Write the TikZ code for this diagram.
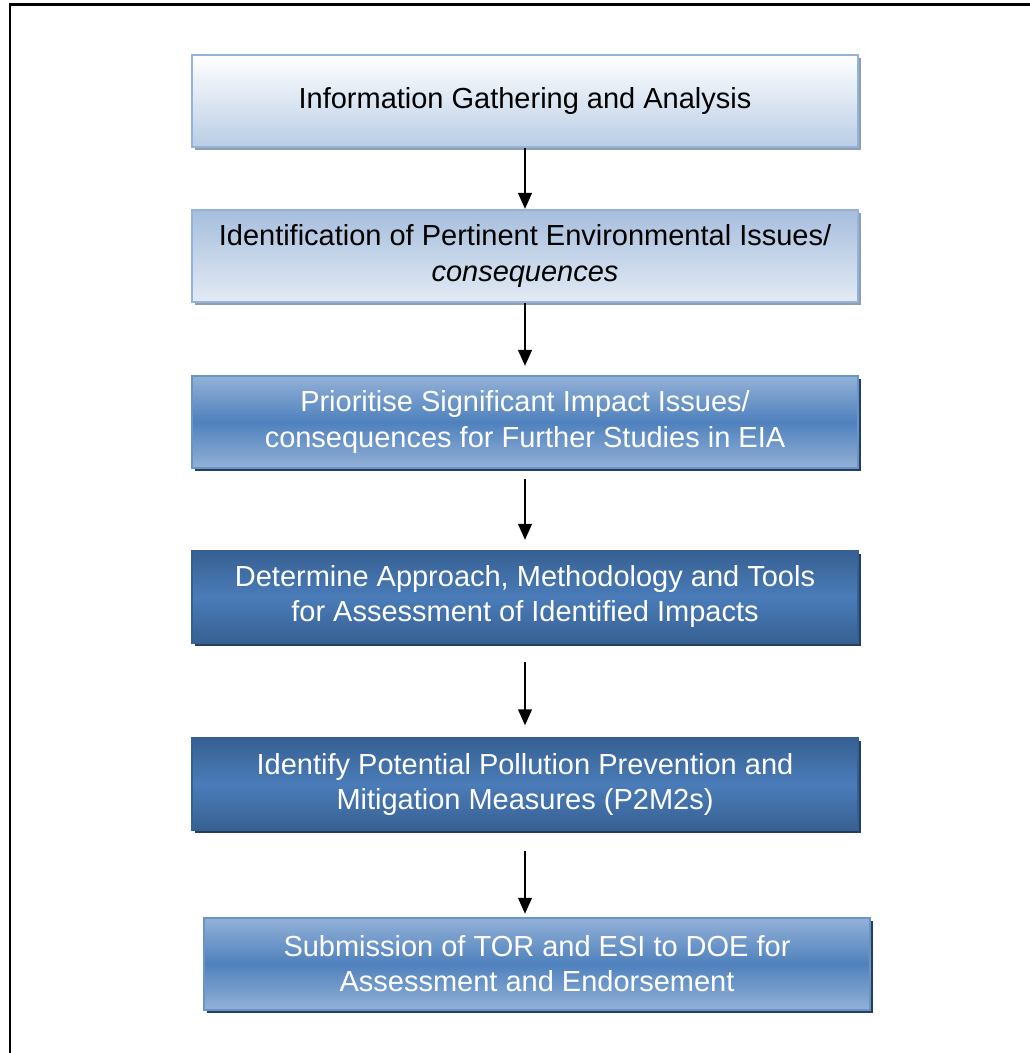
\documentclass[tikz,border=0pt]{standalone}
\usepackage{fontspec}
\setmainfont{Liberation Sans}
\usetikzlibrary{arrows.meta,shadows}

\definecolor{paleblue}{HTML}{B9CDE5}
\definecolor{iceblue}{HTML}{E2EAF4}
\definecolor{skyblue}{HTML}{A6BEDD}
\definecolor{lineblue}{HTML}{95B3D7}
\definecolor{midblue}{HTML}{4F81BD}
\definecolor{softblue}{HTML}{93B1D7}
\definecolor{darkblue}{HTML}{376092}
\definecolor{brightdark}{HTML}{4A7CB9}
\definecolor{navy}{HTML}{243F60}
\definecolor{greyshadow}{HTML}{8E9DB1}

\tikzset{
  stage/.style={rectangle, minimum width=13.34cm, minimum height=1.84cm, align=center,
    font=\fontsize{16.5}{20}\selectfont, line width=0.04cm},
  lightstage/.style={stage, draw=lineblue, text=black,
    drop shadow={shadow xshift=0.06cm, shadow yshift=-0.06cm, fill=greyshadow, opacity=1}},
  bluestage/.style={stage, draw=midblue!85!white, text=white, top color=softblue, bottom color=softblue, middle color=midblue,
    drop shadow={shadow xshift=0.06cm, shadow yshift=-0.06cm, fill=navy, opacity=1}},
  darkstage/.style={stage, draw=darkblue, text=white, top color=darkblue, bottom color=darkblue, middle color=brightdark,
    drop shadow={shadow xshift=0.06cm, shadow yshift=-0.06cm, fill=navy, opacity=1}}
}

\begin{document}
\begin{tikzpicture}[->, >={Triangle[length=0.32cm, width=0.27cm]}, line width=0.05cm, x=0.02cm, y=-0.02cm]
\useasboundingbox (0,0) rectangle (1029,1053);
% frame
\draw[-, line width=0.06cm] (10,1080) -- (10,5) -- (1060,5);

\node  (1)[lightstage, top color=white, bottom color=paleblue] at (525,101) {Information Gathering and Analysis};
\node  (2)[lightstage, top color=skyblue, bottom color=iceblue] [node distance=3.1cm, below of = 1] {Identification of Pertinent Environmental Issues/\\\textit{consequences}};
\node  (3)[bluestage] [node distance=3.32cm, below of = 2] {Prioritise Significant Impact Issues/\\consequences for Further Studies in EIA};
\node  (4)[darkstage] [node distance=3.5cm, below of = 3] {Determine Approach, Methodology and Tools\\for Assessment of Identified Impacts};
\node  (5)[darkstage] [node distance=3.75cm, below of = 4] {Identify Potential Pollution Prevention and\\Mitigation Measures (P2M2s)};
\node  (6)[bluestage] [node distance=3.59cm, below of = 5, xshift=0.24cm] {Submission of TOR and ESI to DOE for\\Assessment and Endorsement};

\path 	(1.south) edge (1.south |- 2.north)
		(2.south) edge[shorten >=0.18cm] (2.south |- 3.north)
		(3.south) edge[shorten <=0.2cm, shorten >=0.2cm] (3.south |- 4.north)
		(4.south) edge[shorten <=0.36cm, shorten >=0.24cm] (4.south |- 5.north)
		(5.south) edge[shorten <=0.4cm, shorten >=0.06cm] (5.south |- 6.north);
\end{tikzpicture}
\end{document}
